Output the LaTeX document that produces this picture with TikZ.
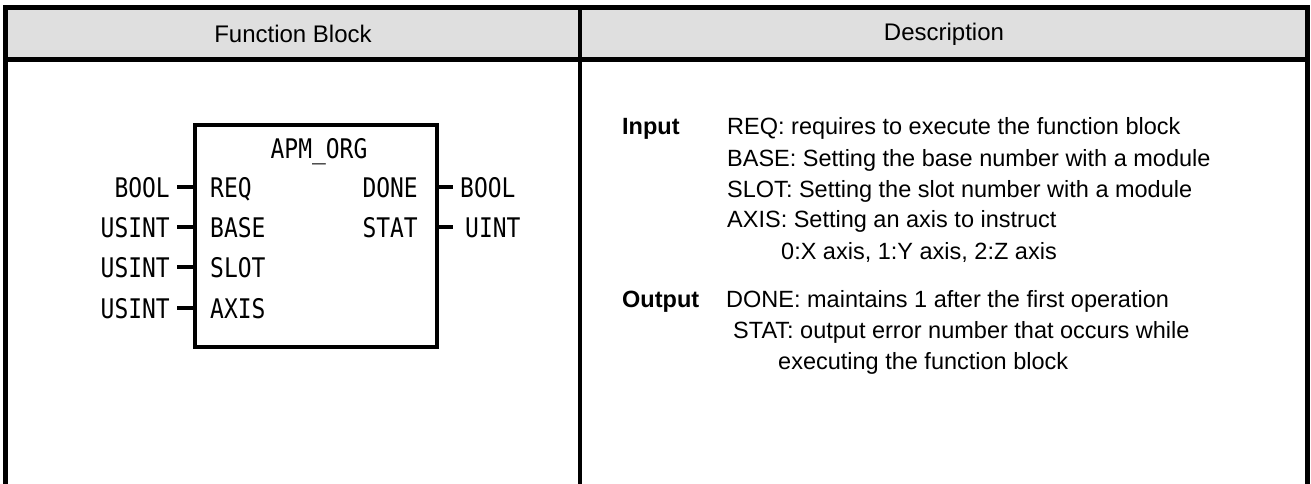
\documentclass[tikz,border=0pt]{standalone}
\usepackage{fontspec}
\setmainfont{Liberation Sans}
\newfontfamily\fbfont[FakeStretch=0.85]{DejaVu Sans Mono}
\usepackage{tikz}
\usetikzlibrary{positioning,calc}
\definecolor{HeadGray}{HTML}{DFDFDF}

\begin{document}
\begin{tikzpicture}[x=1pt,y=-1pt,
  frame/.style={line width=4.5pt},
  head/.style={font=\fontsize{24}{28}\selectfont,inner sep=0pt},
  fbtxt/.style={font=\fbfont\fontsize{27}{30}\selectfont,inner sep=0pt},
  desc/.style={font=\fontsize{23.5}{28}\selectfont,inner sep=0pt,anchor=base west},
  tag/.style={font=\bfseries\fontsize{23.5}{28}\selectfont,inner sep=0pt,anchor=base west},
  pin/.style={line width=4pt}
]
  \useasboundingbox (0,0) rectangle (1311,484);
  \fill[HeadGray] (5.5,7.5) rectangle (1307.5,59.5);
  \draw[frame] (5.5,484) -- (5.5,7.5) -- (1307.5,7.5) -- (1307.5,484);
  \draw[frame] (3.25,59.5) -- (1309.75,59.5);
  \draw[frame] (580,7.5) -- (580,484);
  \node[head] (hfb) at (293,34) {Function Block};
  \node[head] (hdesc) at (944,34) {Description};

  \node[draw,line width=4pt,minimum width=242pt,minimum height=222pt,inner sep=0pt] (fb) at (316,236) {};
  \node[fbtxt,anchor=base] (title) at (319,158) {APM\_ORG};
  \foreach \y/\name/\type [count=\i] in {197/REQ/BOOL,237/BASE/USINT,277/SLOT/USINT,318/AXIS/USINT} {
    \node[fbtxt,anchor=base west] (in\i) at (210,\y) {\name};
    \node[fbtxt,anchor=base east] (tin\i) at (170,\y) {\type};
    \coordinate (pa\i) at (177,\y-10);
    \draw[pin] (pa\i) -- (pa\i -| fb.west);
  }
  \foreach \y/\name/\type/\tx [count=\i] in {197/DONE/BOOL/460,237/STAT/UINT/465} {
    \node[fbtxt,anchor=base east] (out\i) at (418,\y) {\name};
    \node[fbtxt,anchor=base west] (tout\i) at (\tx,\y) {\type};
    \coordinate (pb\i) at (453,\y-10);
    \draw[pin] (pb\i -| fb.east) -- (pb\i);
  }

  \node[tag] (input) at (622,135) {Input};
  \node[desc] (dreq) at (727,135) {REQ: requires to execute the function block};
  \node[desc] (dbase) at (727,166) {BASE: Setting the base number with a module};
  \node[desc] (dslot) at (727,197) {SLOT: Setting the slot number with a module};
  \node[desc] (daxis) at (727,227) {AXIS: Setting an axis to instruct};
  \node[desc] (dxyz) at (781,259) {0:X axis, 1:Y axis, 2:Z axis};
  \node[tag] (output) at (622,307) {Output};
  \node[desc] (ddone) at (726,307) {DONE: maintains 1 after the first operation};
  \node[desc] (dstat) at (733,338) {STAT: output error number that occurs while};
  \node[desc] (dexec) at (778,369) {executing the function block};
\end{tikzpicture}
\end{document}
